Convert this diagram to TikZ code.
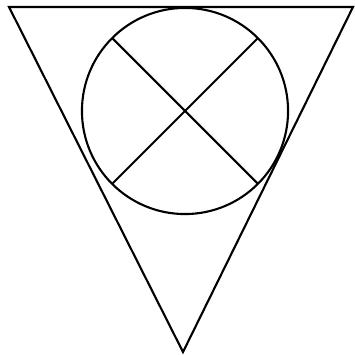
\documentclass[tikz,border=0pt]{standalone}
\usepackage{tikz}
\usetikzlibrary{calc}
\tikzset{
    % Outline style for every stroke
    outline/.style={
        draw=black,
        line width=0.6pt,
        line join=miter,
    },
}
\begin{document}
\begin{tikzpicture}[x=0.01cm, y=-0.01cm]
    \useasboundingbox (0,0) rectangle (355,355);
    \coordinate (topleft) at (9,7);
    \coordinate (topright) at (353,7);
    \coordinate (bottom) at (183,352);
    \coordinate (centre) at (185,111);

    \draw [outline] (topleft) -- (topright) -- (bottom) -- cycle;
    \draw [outline] (centre) circle [radius=1.03cm];
    \draw [outline] ($(centre)+(135:1.03cm)$) -- ($(centre)+(-45:1.03cm)$);
    \draw [outline] ($(centre)+(45:1.03cm)$) -- ($(centre)+(-135:1.03cm)$);
\end{tikzpicture}
\end{document}
